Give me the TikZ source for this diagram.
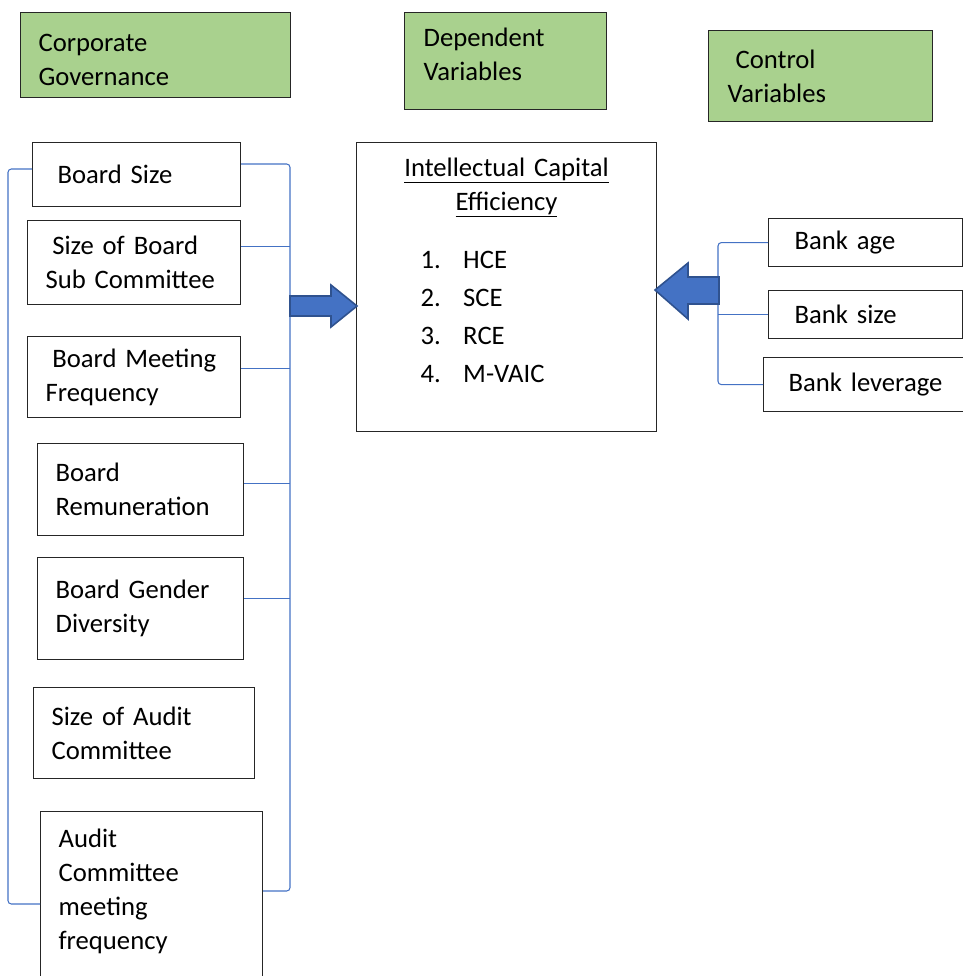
\documentclass[tikz,border=0pt]{standalone}
\usepackage{fontspec}
\setmainfont{Carlito}
\setlength{\parindent}{0pt}
\definecolor{headgreen}{HTML}{A9D18E}
\definecolor{linkblue}{HTML}{4472C4}
\definecolor{arrowedge}{HTML}{2F528F}
\tikzset{
    diag/.cd,
    box/.style={draw=black!85,line width=0.9pt,rectangle,anchor=north west,align=left,
      inner ysep=0pt,font=\fontsize{20}{25.5}\selectfont},
    head/.style={diag/box,fill=headgreen},
    dims/.style n args={3}{text width=#1pt,inner xsep=#2pt,minimum height=#3pt},
    link/.style={draw=linkblue,line width=0.8pt,rounded corners=2.5pt},
    block arrow/.style={fill=linkblue,draw=arrowedge,line width=1.2pt,line join=miter},
}

\begin{document}
\begin{tikzpicture}[x=0.75pt,y=-0.75pt]
      \useasboundingbox (0,0) rectangle (963,976);

      \node[diag/head,diag/dims={175.5}{13.5}{63.75}] (cg) at (20,12) {\rule{0pt}{20pt}Corporate\\Governance};
      \node[diag/head,diag/dims={123}{14.25}{72.75}] (dv) at (404,12) {Dependent\\Variables\rule[-11pt]{0pt}{1pt}};
      \node[diag/head,diag/dims={139.5}{14.25}{68.25}] (cv) at (708,30) {\hspace*{6pt}Control\\Variables};

      \node[diag/box,diag/dims={118.5}{18.75}{48}] (bs) at (32,142) {Board Size};
      \node[diag/box,diag/dims={132.75}{13.5}{63}] (sb) at (27,220) {\hspace*{5pt}Size of Board\\Sub Committee};
      \node[diag/box,diag/dims={132.75}{13.5}{60.75}] (bm) at (27,336) {\hspace*{5pt}Board Meeting\\Frequency};
      \node[diag/box,diag/dims={127.5}{13.5}{69}] (br) at (37,443) {Board\\Remuneration};
      \node[diag/box,diag/dims={127.5}{13.5}{76.5}] (gd) at (37,557) {Board Gender\\Diversity};
      \node[diag/box,diag/dims={138.75}{13.5}{68.25}] (sa) at (33,687) {Size of Audit\\Committee};
      \node[diag/box,diag/dims={139.5}{13.5}{142.5}] (am) at (40,811) {Audit\\Committee\\meeting\\frequency\\\mbox{}};

      \node[diag/box,diag/dims={195}{15}{216.75}] (ice) at (356,142) {%
        {\centering\underline{Intellectual Capital}\\\underline{Efficiency}\par}
        \vspace{18pt}
        \hspace*{33pt}\makebox[32pt][l]{1.}HCE\\[3pt]
        \hspace*{33pt}\makebox[32pt][l]{2.}SCE\\[3pt]
        \hspace*{33pt}\makebox[32pt][l]{3.}RCE\\[3pt]
        \hspace*{33pt}\makebox[32pt][l]{4.}M-VAIC\rule[-26pt]{0pt}{1pt}};

      \node[diag/box,diag/dims={106.5}{19.5}{36}] (ba) at (768,218) {Bank age};
      \node[diag/box,diag/dims={106.5}{19.5}{36}] (bz) at (768,290) {Bank size};
      \node[diag/box,diag/dims={120}{18.75}{40.5}] (bl) at (763,357) {Bank leverage};

      \coordinate (rbT) at (290,164);
      \coordinate (rbB) at (290,891);
      \coordinate (lbT) at (8,169);
      \coordinate (lbB) at (8,904);
      \coordinate (cb) at (718,0);

      \draw[diag/link] (rbT -| bs.east) -- (rbT) -- (rbB) -- (rbB -| am.east);
      \foreach \n/\s in {sb/12,bm/6.5,br/4.5,gd/7.5} {
        \draw[diag/link] ([yshift=\s pt]\n.east) -- ([yshift=\s pt]\n.east -| rbT);
      }
      \draw[diag/link] (lbT -| bs.west) -- (lbT) -- (lbB) -- (lbB -| am.west);

      \draw[diag/link] (ba.west) -- (ba.west -| cb) -- (bl.west -| cb) -- (bl.west);
      \draw[diag/link] (bz.west) -- (bz.west -| cb);

      \draw[diag/block arrow] (290,296) -- (331,296) -- (331,285) -- (357,306)
        -- (331,327) -- (331,316) -- (290,316) -- cycle;
      \draw[diag/block arrow] (719,277) -- (688,277) -- (688,263) -- (655,290)
        -- (688,319) -- (688,304) -- (719,304) -- cycle;
\end{tikzpicture}
\end{document}
